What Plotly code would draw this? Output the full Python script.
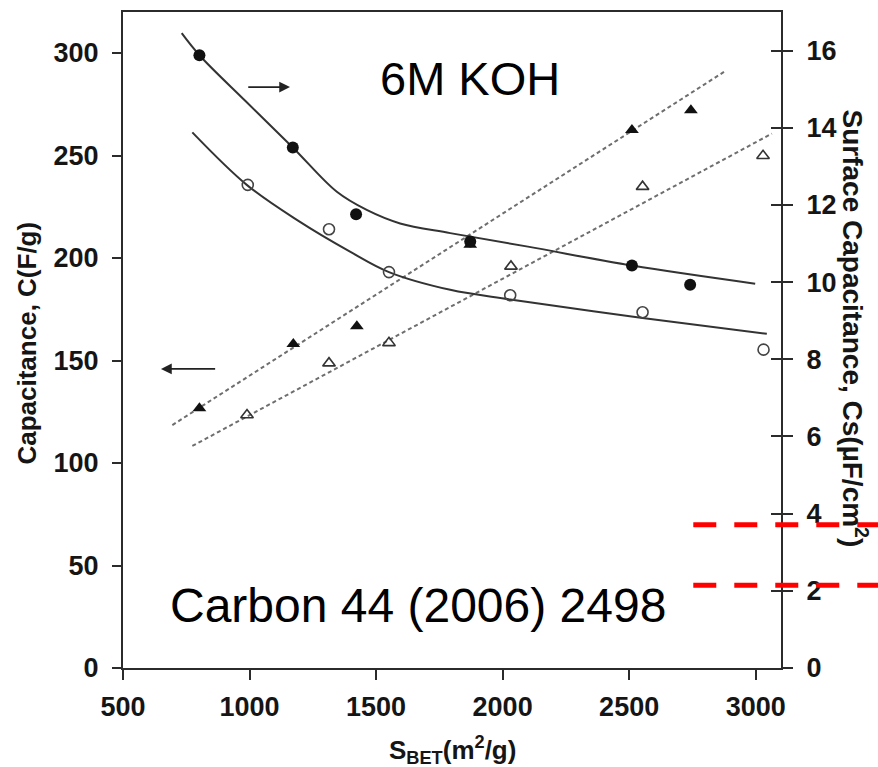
import plotly.graph_objects as go

# ---------------- data ----------------
# filled circles : surface capacitance, sample set 1 (right axis, uF/cm2)
fc_x = [802, 1171, 1421, 1872, 2511, 2741]
fc_y = [15.88, 13.49, 11.76, 11.05, 10.43, 9.93]
# open circles : surface capacitance, sample set 2 (right axis)
oc_x = [993, 1314, 1551, 2030, 2553, 3031]
oc_y = [12.52, 11.37, 10.26, 9.66, 9.22, 8.25]
# filled triangles : specific capacitance, set 1 (left axis, F/g)
ft_x = [802, 1173, 1424, 1872, 2511, 2744]
ft_y = [126.7, 158.1, 166.7, 206.5, 262.4, 272.1]
# open triangles : specific capacitance, set 2 (left axis)
ot_x = [990, 1314, 1551, 2033, 2553, 3029]
ot_y = [123.4, 148.7, 158.6, 195.9, 234.8, 249.9]

# fitted curves (solid)
fit1_x = [732, 802, 986, 1171, 1345, 1463, 1595, 1793, 2100, 2511, 2998]
fit1_y = [16.45, 15.88, 14.68, 13.49, 12.34, 11.87, 11.52, 11.27, 10.92, 10.43, 9.96]
fit2_x = [774, 989, 1190, 1397, 1551, 1793, 2030, 2553, 3044]
fit2_y = [13.88, 12.52, 11.60, 10.79, 10.26, 9.80, 9.55, 9.07, 8.66]
# linear fits (dashed), end points
lin1_x = [695, 2880]
lin1_y = [118.5, 291.2]
lin2_x = [774, 3064]
lin2_y = [108.3, 260.7]

x_ticks = [500, 1000, 1500, 2000, 2500, 3000]
y_ticks = [0, 50, 100, 150, 200, 250, 300]
y2_ticks = [0, 2, 4, 6, 8, 10, 12, 14, 16]

# ---------------- figure ----------------
AX = "#2b2b2b"
TXT = "#151515"
FONT = "Liberation Sans, Arial, Helvetica, sans-serif"

fig = go.Figure()

fig.add_trace(go.Scatter(x=lin1_x, y=lin1_y, mode="lines", yaxis="y",
                         line=dict(color="#6e6e6e", width=2, dash="4px,3px"), hoverinfo="skip"))
fig.add_trace(go.Scatter(x=lin2_x, y=lin2_y, mode="lines", yaxis="y",
                         line=dict(color="#6e6e6e", width=2, dash="4px,3px"), hoverinfo="skip"))
fig.add_trace(go.Scatter(x=fit1_x, y=fit1_y, mode="lines", yaxis="y2", line_shape="spline",
                         line=dict(color="#333333", width=2, smoothing=1.0)))
fig.add_trace(go.Scatter(x=fit2_x, y=fit2_y, mode="lines", yaxis="y2", line_shape="spline",
                         line=dict(color="#333333", width=2, smoothing=1.0)))

fig.add_trace(go.Scatter(x=ft_x, y=ft_y, mode="markers", yaxis="y",
                         marker=dict(symbol="triangle-up", size=12, color="#111111")))
fig.add_trace(go.Scatter(x=ot_x, y=ot_y, mode="markers", yaxis="y",
                         marker=dict(symbol="triangle-up-open", size=11, color="#333333",
                                     line=dict(width=1.6))))
fig.add_trace(go.Scatter(x=fc_x, y=fc_y, mode="markers", yaxis="y2",
                         marker=dict(symbol="circle", size=12, color="#111111")))
fig.add_trace(go.Scatter(x=oc_x, y=oc_y, mode="markers", yaxis="y2",
                         marker=dict(symbol="circle-open", size=11, color="#444444",
                                     line=dict(width=1.6))))

tickfont = dict(family=FONT, size=27, color=TXT, weight="bold")

fig.update_layout(
    width=878, height=767,
    margin=dict(l=123, r=97, t=10, b=99),
    paper_bgcolor="white", plot_bgcolor="white",
    showlegend=False,
    xaxis=dict(range=[500, 3100], tickvals=x_ticks, ticks="outside", ticklen=10,
               tickwidth=2, tickcolor=AX, showline=True, linewidth=2, linecolor=AX,
               mirror=True, showgrid=False, zeroline=False, tickfont=tickfont,
               ticklabelstandoff=4),
    yaxis=dict(range=[0, 320], tickvals=y_ticks, ticks="outside", ticklen=9,
               tickwidth=2, tickcolor=AX, showline=True, linewidth=2, linecolor=AX,
               showgrid=False, zeroline=False, tickfont=tickfont, ticklabelstandoff=8),
    yaxis2=dict(range=[0, 17], tickvals=y2_ticks, overlaying="y", side="right",
                ticks="outside", ticklen=10, tickwidth=2, tickcolor=AX,
                showline=True, linewidth=2, linecolor=AX, showgrid=False,
                zeroline=False, tickfont=tickfont, ticklabelstandoff=8),
    yaxis3=dict(range=[0, 17], tickvals=y2_ticks, overlaying="y", side="right",
                anchor="x", ticks="inside", ticklen=10, tickwidth=2, tickcolor=AX,
                showticklabels=False, showline=False, showgrid=False, zeroline=False),
)

# dummy trace to activate yaxis3
fig.add_trace(go.Scatter(x=[None], y=[None], yaxis="y3", showlegend=False))

ann = []
# axis titles
ann.append(dict(text="Capacitance, C(F/g)", xref="paper", yref="paper",
                x=-0.146, y=0.496, textangle=-90, showarrow=False,
                font=dict(family=FONT, size=26, color=TXT, weight="bold"),
                xanchor="center", yanchor="middle"))
ann.append(dict(text="Surface Capacitance, Cs(µF/cm<sup>2</sup>)", xref="paper", yref="paper",
                x=1.113, y=0.517, textangle=90, showarrow=False,
                font=dict(family=FONT, size=28, color=TXT, weight="bold"),
                xanchor="center", yanchor="middle"))
ann.append(dict(text="S<sub>BET</sub>(m<sup>2</sup>/g)", xref="paper", yref="paper",
                x=0.5, y=-0.125, showarrow=False,
                font=dict(family=FONT, size=26, color=TXT, weight="bold"),
                xanchor="center", yanchor="middle"))
# labels inside the plot
ann.append(dict(text="6M KOH", xref="paper", yref="paper", x=0.527, y=0.899,
                showarrow=False, font=dict(family=FONT, size=47, color="black"),
                xanchor="center", yanchor="middle"))
ann.append(dict(text="Carbon 44 (2006) 2498", xref="paper", yref="paper", x=0.449, y=0.095,
                showarrow=False, font=dict(family=FONT, size=48, color="black"),
                xanchor="center", yanchor="middle"))
# arrows pointing to the relevant axis
ann.append(dict(x=1160, y=283.4, ax=989, ay=283.4, xref="x", yref="y", axref="x", ayref="y",
                text="", showarrow=True, arrowhead=2, arrowsize=1.2, arrowwidth=1.8,
                arrowcolor="#222222"))
ann.append(dict(x=650, y=145.9, ax=870, ay=145.9, xref="x", yref="y", axref="x", ayref="y",
                text="", showarrow=True, arrowhead=2, arrowsize=1.2, arrowwidth=1.8,
                arrowcolor="#222222"))
fig.update_layout(annotations=ann)

# red dashed marker lines
for yy in [0.2184, 0.1261]:
    fig.add_shape(type="line", xref="paper", yref="paper", x0=0.8667, x1=1.1474, y0=yy, y1=yy,
                  line=dict(color="#ff0000", width=5, dash="23px,18px"), layer="above")

fig.write_html("out.html")
